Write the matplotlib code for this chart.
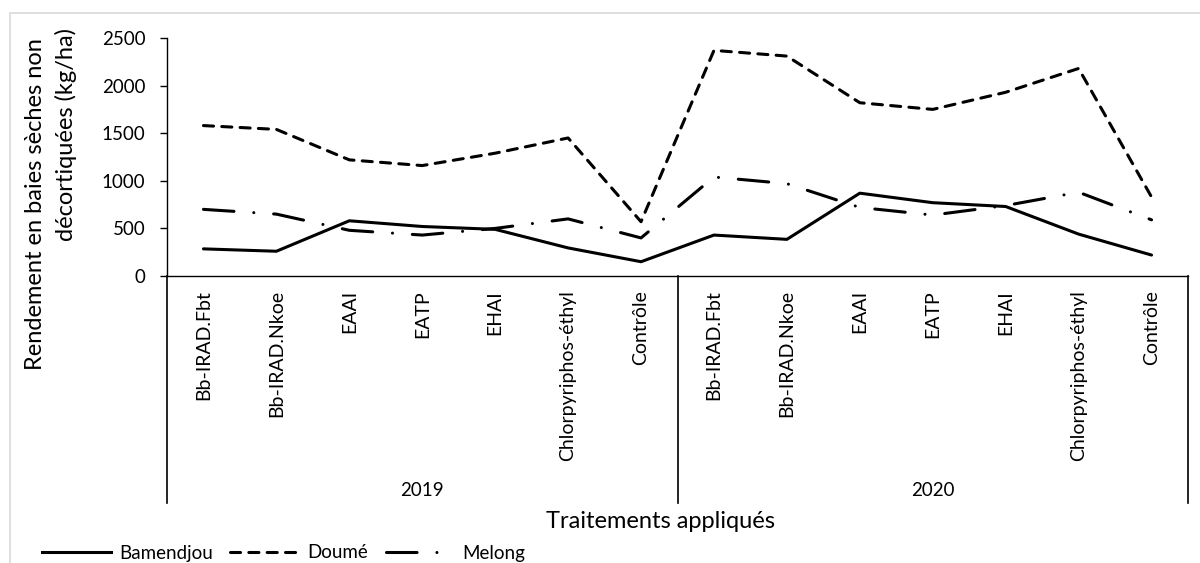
import matplotlib.pyplot as plt
from matplotlib.patches import Rectangle
from matplotlib.lines import Line2D

plt.rcParams['font.family'] = ['Lato', 'DejaVu Sans']

# data
treatments = ['Bb-IRAD.Fbt', 'Bb-IRAD.Nkoe', 'EAAI', 'EATP', 'EHAI',
              'Chlorpyriphos-éthyl', 'Contrôle']
years = ['2019', '2020']
bamendjou = [285, 260, 580, 520, 490, 295, 150,
             430, 385, 870, 770, 730, 440, 220]
doume = [1580, 1540, 1220, 1160, 1290, 1450, 570,
         2370, 2310, 1820, 1750, 1930, 2180, 830]
melong = [700, 650, 480, 430, 500, 600, 400,
          1040, 970, 720, 640, 740, 880, 590]

labels = treatments * len(years)
x = list(range(len(labels)))

W, H = 1200, 563
fig = plt.figure(figsize=(W / 100, H / 100), dpi=100)

# light grey chart-area border
fig.patches.append(Rectangle((10 / W, -0.1), 1.2, 1 - 13 / H + 0.1,
                             transform=fig.transFigure, fill=False,
                             edgecolor='#d9d9d9', linewidth=1.2))

ax = fig.add_axes([167 / W, 1 - 276 / H, (1188 - 167) / W, (276 - 38) / H])

lw = 2.2
dash_d = (3.3, 2.7)
dash_m = (10, 6.5, 0.01, 6.5)
ax.plot(x, bamendjou, color='black', lw=lw, solid_capstyle='round',
        solid_joinstyle='round', label='Bamendjou')
ax.plot(x, doume, color='black', lw=lw, dashes=dash_d,
        dash_capstyle='round', label='Doumé')
ax.plot(x, melong, color='black', lw=lw, dashes=dash_m,
        dash_capstyle='round', label='Melong')

ax.set_xlim(-0.5, len(labels) - 0.5)
ax.set_ylim(0, 2500)
ax.set_yticks([0, 500, 1000, 1500, 2000, 2500])
ax.tick_params(axis='y', length=5, width=1, labelsize=13.5, pad=10.5)
ax.set_xticks(x)
ax.set_xticklabels(labels, rotation=90, va='top', fontsize=14)
ax.tick_params(axis='x', length=0, pad=10)

for s in ['top', 'right']:
    ax.spines[s].set_visible(False)
ax.spines['left'].set_linewidth(1)
ax.spines['bottom'].set_linewidth(1)

# group separators and year labels below the axis
ybot = -(503 - 276) / (276 - 38)
for gx in [-0.5, 6.5, 13.5]:
    ax.plot([gx, gx], [0, ybot], color='black', lw=1.2,
            transform=ax.get_xaxis_transform(), clip_on=False)
for i, yr in enumerate(years):
    ax.text(i * len(treatments) + 3, -(490 - 276) / (276 - 38), yr,
            transform=ax.get_xaxis_transform(), ha='center', va='center',
            fontsize=13.5)

fig.text(660 / W, 1 - 522 / H, 'Traitements appliqués', ha='center',
         va='center', fontsize=17)
# y title, two lines placed as in the original
fig.text(36 / W, 1 - 204 / H, 'Rendement en baies sèches non',
         rotation=90, ha='center', va='center', fontsize=17)
fig.text(66 / W, 1 - 28 / H, 'décortiquées (kg/ha)',
         rotation=90, ha='center', va='top', fontsize=17)

handles = [Line2D([], [], color='black', lw=lw),
           Line2D([], [], color='black', lw=lw, dashes=dash_d,
                  dash_capstyle='round'),
           Line2D([], [], color='black', lw=lw, dashes=dash_m,
                  dash_capstyle='round')]
fig.legend(handles, ['Bamendjou', 'Doumé', 'Melong'], loc='center left',
           bbox_to_anchor=(42 / W, 1 - 553 / H), ncol=3, frameon=False,
           fontsize=13.5, handlelength=3.7, handletextpad=0.4,
           columnspacing=0.95, borderaxespad=0, borderpad=0)

fig.savefig('out.png', dpi=100)
